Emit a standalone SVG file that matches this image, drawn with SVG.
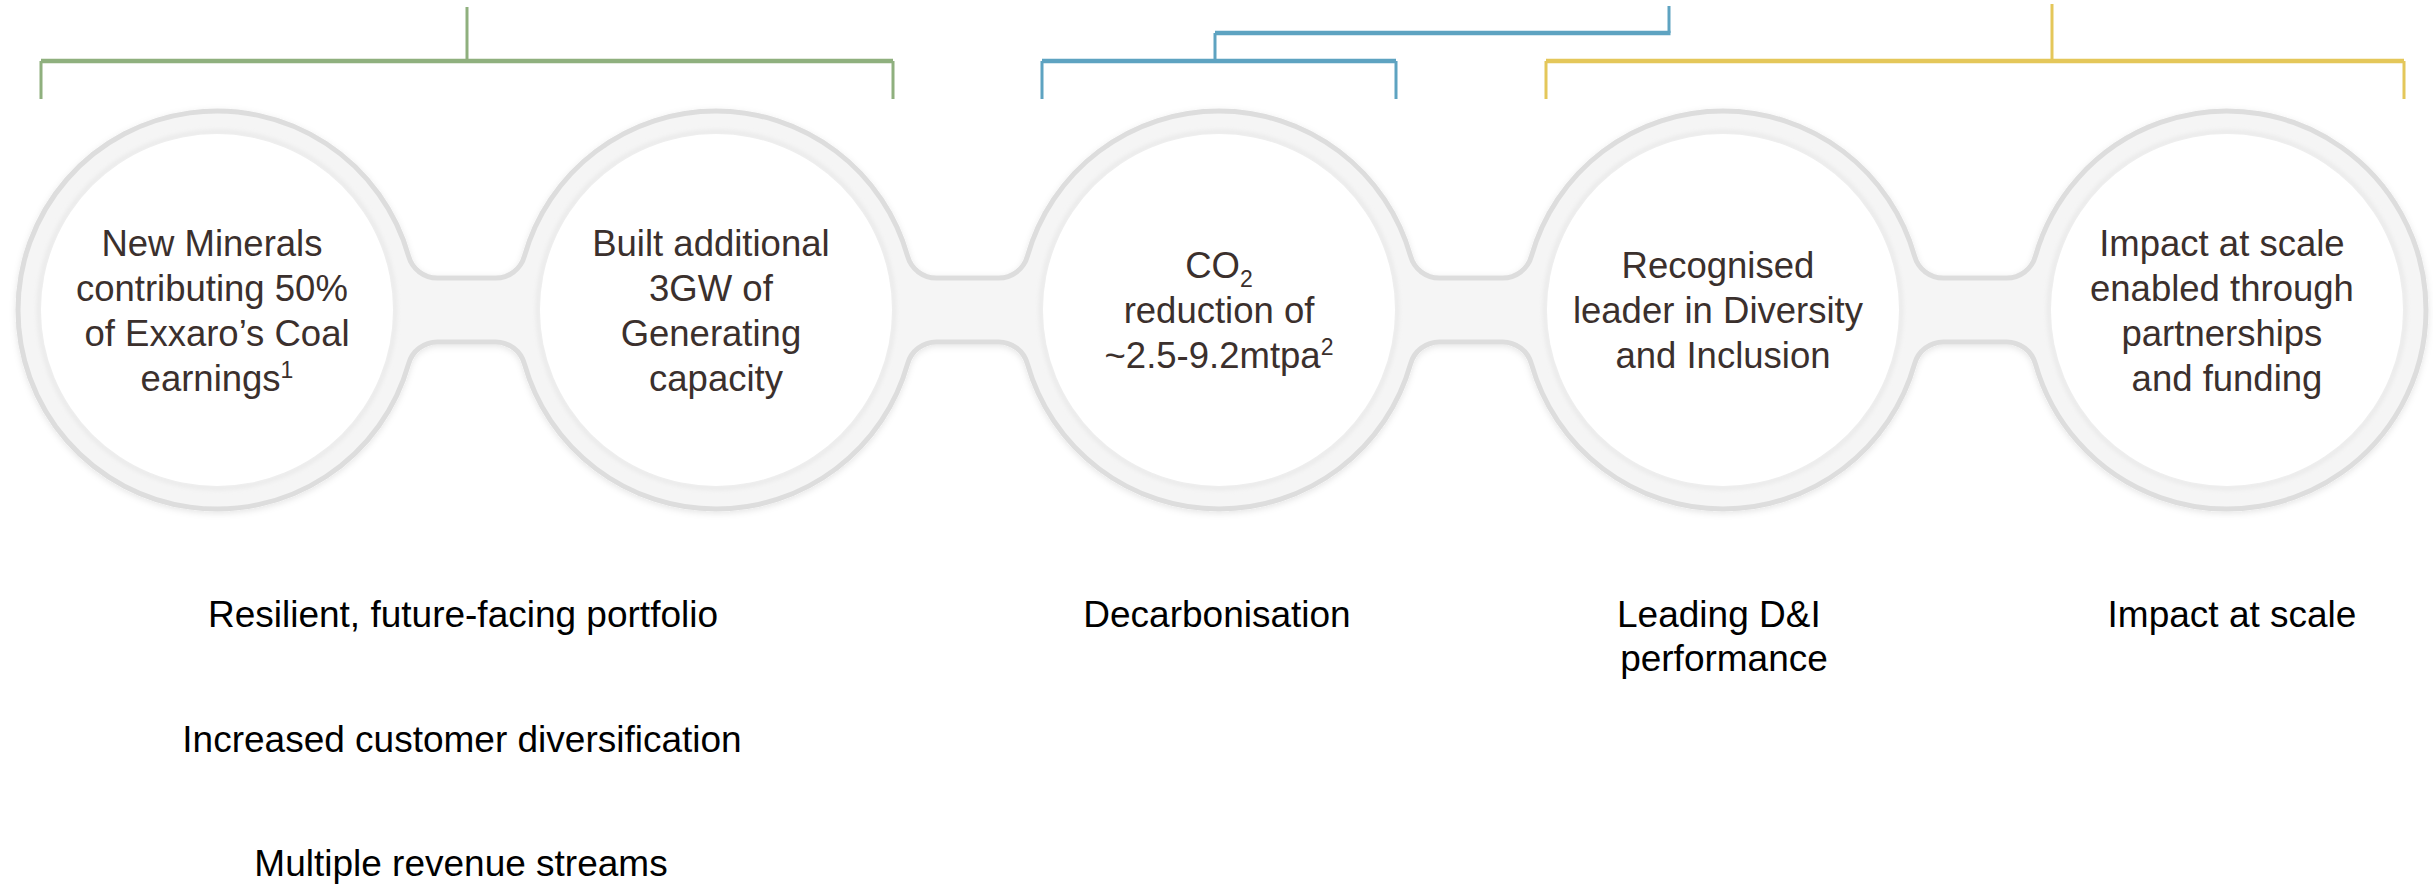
<svg xmlns="http://www.w3.org/2000/svg" width="2433" height="887" viewBox="0 0 2433 887">
  <defs>
    <filter id="frameShadow" x="-5%" y="-20%" width="110%" height="140%">
      <feDropShadow dx="0" dy="2" stdDeviation="3" flood-color="#000" flood-opacity="0.10"/>
    </filter>
    <filter id="soft" x="-10%" y="-10%" width="120%" height="120%">
      <feGaussianBlur stdDeviation="2"/>
    </filter>
  </defs>
  <style>
    .frame{fill:#f5f5f5;stroke:#dddddd;stroke-width:5;stroke-linejoin:round;}
    .lens-edge{fill:none;stroke:#e8e8e8;stroke-width:4;}
    .lens{fill:#ffffff;}
    .inner{font-family:"Liberation Sans",Arial,Helvetica,sans-serif;font-size:36.5px;fill:#3b302d;text-anchor:middle;}
    .label{font-family:"Liberation Sans",Arial,Helvetica,sans-serif;font-size:37px;fill:#000000;text-anchor:middle;}
    .bar{fill:none;stroke-width:4.5;}
    .stem{fill:none;stroke-width:3;}
    .green{stroke:#8fb07e;}
    .blue{stroke:#5ea3c1;}
    .yellow{stroke:#e4c75a;}
  </style>

  <!-- connected ring frame: five rings joined by filleted bridges -->
  <g id="frame">
    <path class="frame" filter="url(#frameShadow)" d="M 18,310
      A 199 199 0 0 1 408.57,256.12 A 30 30 0 0 0 437.45,278 L 495.55,278 A 30 30 0 0 0 524.43,256.12
      A 199 199 0 0 1 907.57,256.12 A 30 30 0 0 0 936.45,278 L 998.55,278 A 30 30 0 0 0 1027.43,256.12
      A 199 199 0 0 1 1410.57,256.12 A 30 30 0 0 0 1439.45,278 L 1502.55,278 A 30 30 0 0 0 1531.43,256.12
      A 199 199 0 0 1 1914.57,256.12 A 30 30 0 0 0 1943.45,278 L 2006.55,278 A 30 30 0 0 0 2035.43,256.12
      A 199 199 0 1 1 2035.43,363.88
      A 30 30 0 0 0 2006.55,342 L 1943.45,342 A 30 30 0 0 0 1914.57,363.88
      A 199 199 0 0 1 1531.43,363.88 A 30 30 0 0 0 1502.55,342 L 1439.45,342 A 30 30 0 0 0 1410.57,363.88
      A 199 199 0 0 1 1027.43,363.88 A 30 30 0 0 0 998.55,342 L 936.45,342 A 30 30 0 0 0 907.57,363.88
      A 199 199 0 0 1 524.43,363.88 A 30 30 0 0 0 495.55,342 L 437.45,342 A 30 30 0 0 0 408.57,363.88
      A 199 199 0 0 1 18,310 Z"/>
  </g>

  <!-- bracket connectors -->
  <g id="connectors">
    <path class="stem green" d="M467,7 V61"/>
    <path class="bar green" d="M41,61 H893"/>
    <path class="stem green" d="M41,61 V99 M893,61 V99"/>

    <path class="stem blue" d="M1669,6 V33"/>
    <path class="bar blue" d="M1215,33 H1670.5"/>
    <path class="stem blue" d="M1215,33 V61"/>
    <path class="bar blue" d="M1042,61 H1396"/>
    <path class="stem blue" d="M1042,61 V99 M1396,61 V99"/>

    <path class="stem yellow" d="M2052,4 V61"/>
    <path class="bar yellow" d="M1546,61 H2404"/>
    <path class="stem yellow" d="M1546,61 V99 M2404,61 V99"/>
  </g>

  <g id="node-minerals">
    <circle class="lens-edge" filter="url(#soft)" cx="217" cy="310" r="178"/>
    <circle class="lens" cx="217" cy="310" r="176"/>
    <text class="inner">
      <tspan x="217" y="256">New Minerals</tspan>
      <tspan x="217" y="301">contributing 50%</tspan>
      <tspan x="217" y="346">of Exxaro’s Coal</tspan>
    </text>
    <text class="inner" x="217" y="391">earnings<tspan font-size="23" dy="-13">1</tspan></text>
  </g>

  <g id="node-generation">
    <circle class="lens-edge" filter="url(#soft)" cx="716" cy="310" r="178"/>
    <circle class="lens" cx="716" cy="310" r="176"/>
    <text class="inner">
      <tspan x="716" y="256">Built additional</tspan>
      <tspan x="716" y="301">3GW of</tspan>
      <tspan x="716" y="346">Generating</tspan>
      <tspan x="716" y="391">capacity</tspan>
    </text>
  </g>

  <g id="node-co2">
    <circle class="lens-edge" filter="url(#soft)" cx="1219" cy="310" r="178"/>
    <circle class="lens" cx="1219" cy="310" r="176"/>
    <text class="inner" x="1219" y="278">CO<tspan font-size="23" dy="9">2</tspan></text>
    <text class="inner" x="1219" y="323">reduction of</text>
    <text class="inner" x="1219" y="368">~2.5-9.2mtpa<tspan font-size="23" dy="-13">2</tspan></text>
  </g>

  <g id="node-diversity">
    <circle class="lens-edge" filter="url(#soft)" cx="1723" cy="310" r="178"/>
    <circle class="lens" cx="1723" cy="310" r="176"/>
    <text class="inner">
      <tspan x="1723" y="278">Recognised</tspan>
      <tspan x="1723" y="323">leader in Diversity</tspan>
      <tspan x="1723" y="368">and Inclusion</tspan>
    </text>
  </g>

  <g id="node-impact">
    <circle class="lens-edge" filter="url(#soft)" cx="2227" cy="310" r="178"/>
    <circle class="lens" cx="2227" cy="310" r="176"/>
    <text class="inner">
      <tspan x="2227" y="256">Impact at scale</tspan>
      <tspan x="2227" y="301">enabled through</tspan>
      <tspan x="2227" y="346">partnerships</tspan>
      <tspan x="2227" y="391">and funding</tspan>
    </text>
  </g>

  <g id="outcome-portfolio">
    <text class="label" x="463" y="627">Resilient, future-facing portfolio</text>
    <text class="label" x="462" y="752">Increased customer diversification</text>
    <text class="label" x="461" y="876">Multiple revenue streams</text>
  </g>
  <g id="outcome-decarbonisation">
    <text class="label" x="1217" y="627">Decarbonisation</text>
  </g>
  <g id="outcome-diversity">
    <text class="label">
      <tspan x="1724" y="627">Leading D&amp;I</tspan>
      <tspan x="1724" y="671">performance</tspan>
    </text>
  </g>
  <g id="outcome-impact">
    <text class="label" x="2232" y="627">Impact at scale</text>
  </g>
</svg>
